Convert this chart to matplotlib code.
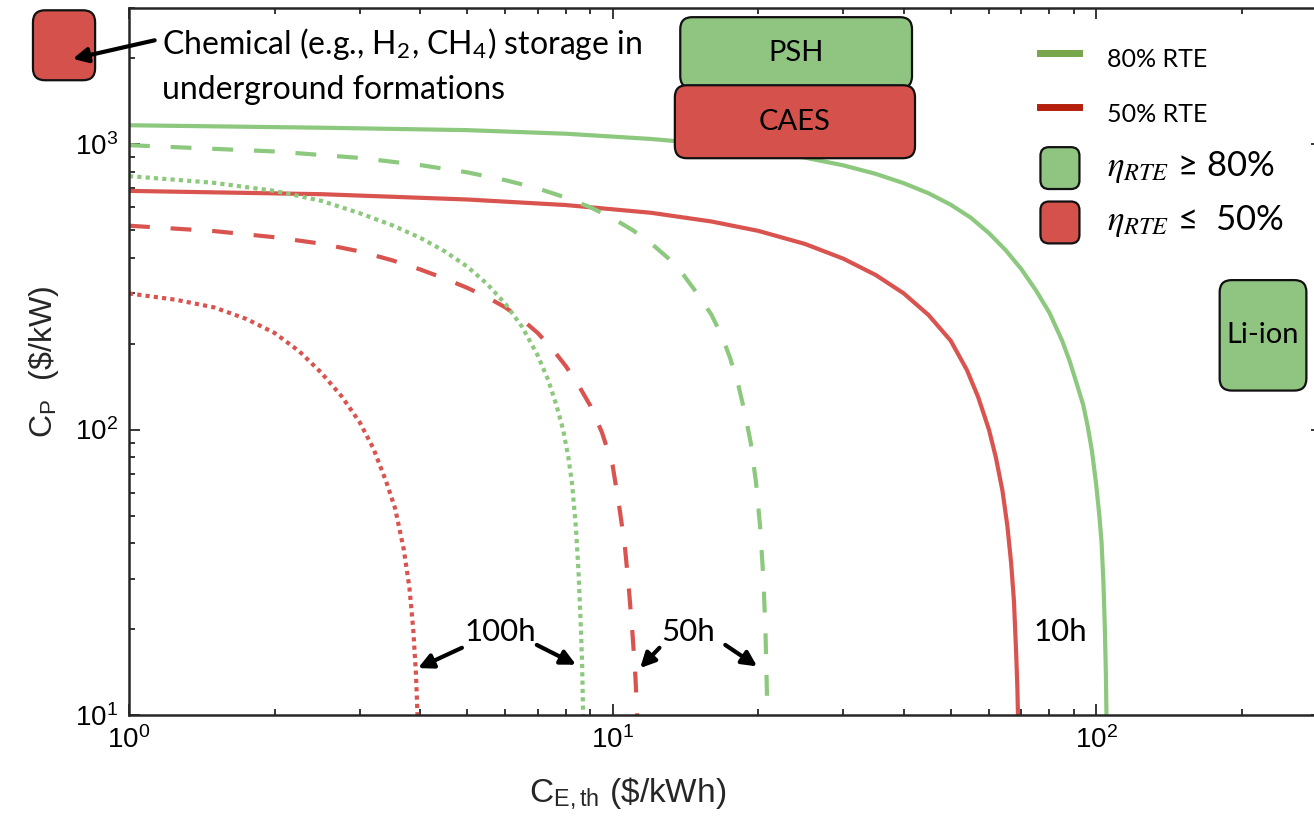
import matplotlib
matplotlib.use("Agg")
import matplotlib.pyplot as plt
from matplotlib.lines import Line2D
from matplotlib.patches import FancyBboxPatch, Patch
from matplotlib.legend_handler import HandlerPatch
from matplotlib.transforms import IdentityTransform
from matplotlib.ticker import NullFormatter

plt.rcParams['font.family'] = ['Liberation Sans', 'DejaVu Sans']
plt.rcParams['mathtext.fontset'] = 'stix'

# C_E,th ($/kWh) vs C_P ($/kW) break-even curves
# 10 h duration
g10_x = [1, 2.5, 5, 8, 12, 16, 20, 25, 30, 35, 40, 45, 50, 55, 60, 65, 70, 75, 80, 85, 88, 91, 94, 96, 98, 100, 101.5, 102.6, 103.5, 104.2, 104.7, 105]
g10_y = [1165, 1142, 1120, 1088, 1043, 1000, 955, 897, 843, 787, 730, 673, 614, 553, 488, 425, 365, 308, 257, 205, 175, 146, 122, 103, 84, 64, 50, 40, 29, 20, 14, 10]
r10_x = [1, 2.5, 5, 8, 12, 16, 20, 25, 30, 35, 40, 45, 50, 54, 57, 60, 62, 64, 65.5, 66.7, 67.6, 68.3, 68.7, 68.9]
r10_y = [686, 668, 640, 612, 575, 536, 497, 447, 397, 348, 300, 252, 205, 162, 130, 100, 80, 61, 46, 34, 25, 16.5, 12.5, 10]
# 50 h duration
g50_x = [1, 2, 3, 4, 5, 6, 7, 8, 9, 10, 11, 12, 13, 14, 15, 16, 16.8, 17.5, 18.2, 18.8, 19.3, 19.8, 20.2, 20.5, 20.7, 20.9]
g50_y = [992, 943, 895, 845, 797, 748, 700, 650, 601, 550, 500, 450, 400, 349, 298, 253, 214, 178, 143, 113, 90, 65, 45, 30, 20, 10]
r50_x = [1, 1.5, 2, 2.5, 3, 3.5, 4, 4.5, 5, 5.5, 6, 6.5, 7, 7.5, 8, 8.5, 9, 9.5, 10, 10.35, 10.6, 10.8, 11, 11.15, 11.24]
r50_y = [518, 496, 472, 448, 421, 392, 364, 338, 314, 291, 268, 243, 218, 192, 167, 143, 121, 98, 75, 52, 39, 28, 19, 13.5, 10]
# 100 h duration
g100_x = [1, 1.5, 2, 2.5, 3, 3.5, 4, 4.5, 5, 5.5, 6, 6.5, 7, 7.36, 7.65, 7.9, 8.1, 8.25, 8.4, 8.5, 8.6, 8.65, 8.69]
g100_y = [773, 732, 686, 633, 573, 520, 470, 421, 373, 324, 276, 229, 182, 149, 122, 100, 80, 64, 45, 32, 20, 15, 10]
r100_x = [1, 1.25, 1.5, 1.75, 2, 2.25, 2.5, 2.75, 3, 3.2, 3.4, 3.55, 3.7, 3.8, 3.87, 3.92, 3.95]
r100_y = [300, 285, 268, 244, 218, 188, 158, 131, 106, 86, 66, 53, 38, 28, 20, 14, 10]

# technology regions: C_E range, C_P range, colour group, label
tech_ce = [(0.633, 0.851), (13.8, 41.6), (13.45, 42.2), (180, 272)]
tech_cp = [(1675, 2945), (1571, 2786), (893, 1609), (137, 334)]
tech_group = ["red", "green", "red", "green"]
tech_labels = ["", "PSH", "CAES", "Li-ion"]

green = '#8cc87d'
red = '#d9534f'
box_green = '#8fc481'
box_red = '#d4524b'
ann_font = ['Lato', 'DejaVu Sans']

W, H = 1314, 840
fig = plt.figure(figsize=(W / 100, H / 100), dpi=100)
ax = fig.add_axes([129 / W, (H - 715) / H, (1322 - 129) / W, (715 - 8) / H])
ax.set_xscale('log')
ax.set_yscale('log')
ax.set_xlim(1, 293)
ax.set_ylim(10, 3000)

lw = 3.0
ax.plot(g10_x, g10_y, color=green, lw=lw)
ax.plot(r10_x, r10_y, color=red, lw=lw)
ax.plot(g50_x, g50_y, color=green, lw=lw, dashes=(5, 5))
ax.plot(r50_x, r50_y, color=red, lw=lw, dashes=(5, 5))
ax.plot(g100_x, g100_y, color=green, lw=lw, dashes=(1, 1))
ax.plot(r100_x, r100_y, color=red, lw=lw, dashes=(1, 1))

# axes styling (matlab-like box with inward ticks)
for s in ax.spines.values():
    s.set_linewidth(1.8)
    s.set_color('#262626')
ax.tick_params(which='both', direction='in', top=True, right=True, width=1.3, color='#262626')
ax.tick_params(which='major', length=8, labelsize=20, pad=8)
ax.tick_params(which='minor', length=4.5)
ax.xaxis.set_minor_formatter(NullFormatter())
ax.yaxis.set_minor_formatter(NullFormatter())
ax.set_xlabel(r"C$_\mathdefault{E,th}$ (\$/kWh)", fontsize=24, color='#262626')
ax.xaxis.set_label_coords(0.418, -0.085)
ax.set_ylabel(r"C$_\mathdefault{P}$  (\$/kW)", fontsize=23, labelpad=10, color='#262626')

# duration annotations
arrow = dict(arrowstyle='-|>', lw=3, color='black', shrinkA=0, shrinkB=0, mutation_scale=22)
ax.text(5.85, 19.5, "100h", fontsize=22.5, family=ann_font, ha='center', va='center')
ax.annotate('', xy=(3.96, 14.6), xytext=(4.88, 17.2), arrowprops=arrow)
ax.annotate('', xy=(8.40, 15.0), xytext=(6.97, 17.6), arrowprops=arrow)
ax.text(14.3, 19.5, "50h", fontsize=22.5, family=ann_font, ha='center', va='center')
ax.annotate('', xy=(11.4, 14.6), xytext=(12.5, 17.2), arrowprops=arrow)
ax.annotate('', xy=(19.9, 14.8), xytext=(17.1, 17.6), arrowprops=arrow)
ax.text(84.1, 19.5, "10h", fontsize=22.5, family=ann_font, ha='center', va='center')

ax.text(1.17, 1892, "Chemical (e.g., H$_\\mathdefault{2}$, CH$_\\mathdefault{4}$) storage in\nunderground formations",
        fontsize=23, family=ann_font, ha='left', va='center', linespacing=1.55)
ax.annotate('', xy=(0.765, 1990), xytext=(1.13, 2312), arrowprops=arrow,
            annotation_clip=False, zorder=8)

# technology boxes, drawn in pixel space so the rounded corners stay round
fig.canvas.draw()
for (x0, x1), (y0, y1), grp, lab in zip(tech_ce, tech_cp, tech_group, tech_labels):
    (px0, py0), (px1, py1) = ax.transData.transform([(x0, y0), (x1, y1)])
    fc = box_green if grp == "green" else box_red
    box = FancyBboxPatch((px0, py0), px1 - px0, py1 - py0,
                         boxstyle="round,pad=0,rounding_size=12",
                         transform=IdentityTransform(), facecolor=fc,
                         edgecolor='#111111', lw=1.6, zorder=5, clip_on=False)
    ax.add_artist(box)
    if lab:
        ax.text((px0 + px1) / 2, (py0 + py1) / 2, lab, transform=IdentityTransform(),
                fontsize=21, family=ann_font, ha='center', va='center', zorder=6, clip_on=False)


def rounded_handle(legend, orig_handle, xdescent, ydescent, width, height, fontsize):
    return FancyBboxPatch((-xdescent, -ydescent), width, height,
                          boxstyle="round,pad=0,rounding_size=%f" % (0.22 * width))


handles = [Line2D([], [], color='#78a64a', lw=5),
           Line2D([], [], color='#b5200c', lw=5),
           Patch(facecolor=box_green, edgecolor='#111111', lw=1.6),
           Patch(facecolor=box_red, edgecolor='#111111', lw=1.6)]
labels = ["80% RTE", "50% RTE", r"$\eta_{RTE}$ ≥ 80%", r"$\eta_{RTE}$ ≤  50%"]
leg = ax.legend(handles, labels, loc='upper left', bbox_to_anchor=(0.764, 0.957),
                frameon=False, borderpad=0, borderaxespad=0,
                handlelength=1.56, handleheight=2.2, labelspacing=0.5, handletextpad=1.1,
                prop={'family': ann_font, 'size': 18},
                handler_map={Patch: HandlerPatch(patch_func=rounded_handle)})
for t in leg.get_texts()[2:]:
    t.set_fontsize(25)

fig.savefig("out.png", dpi=100)
